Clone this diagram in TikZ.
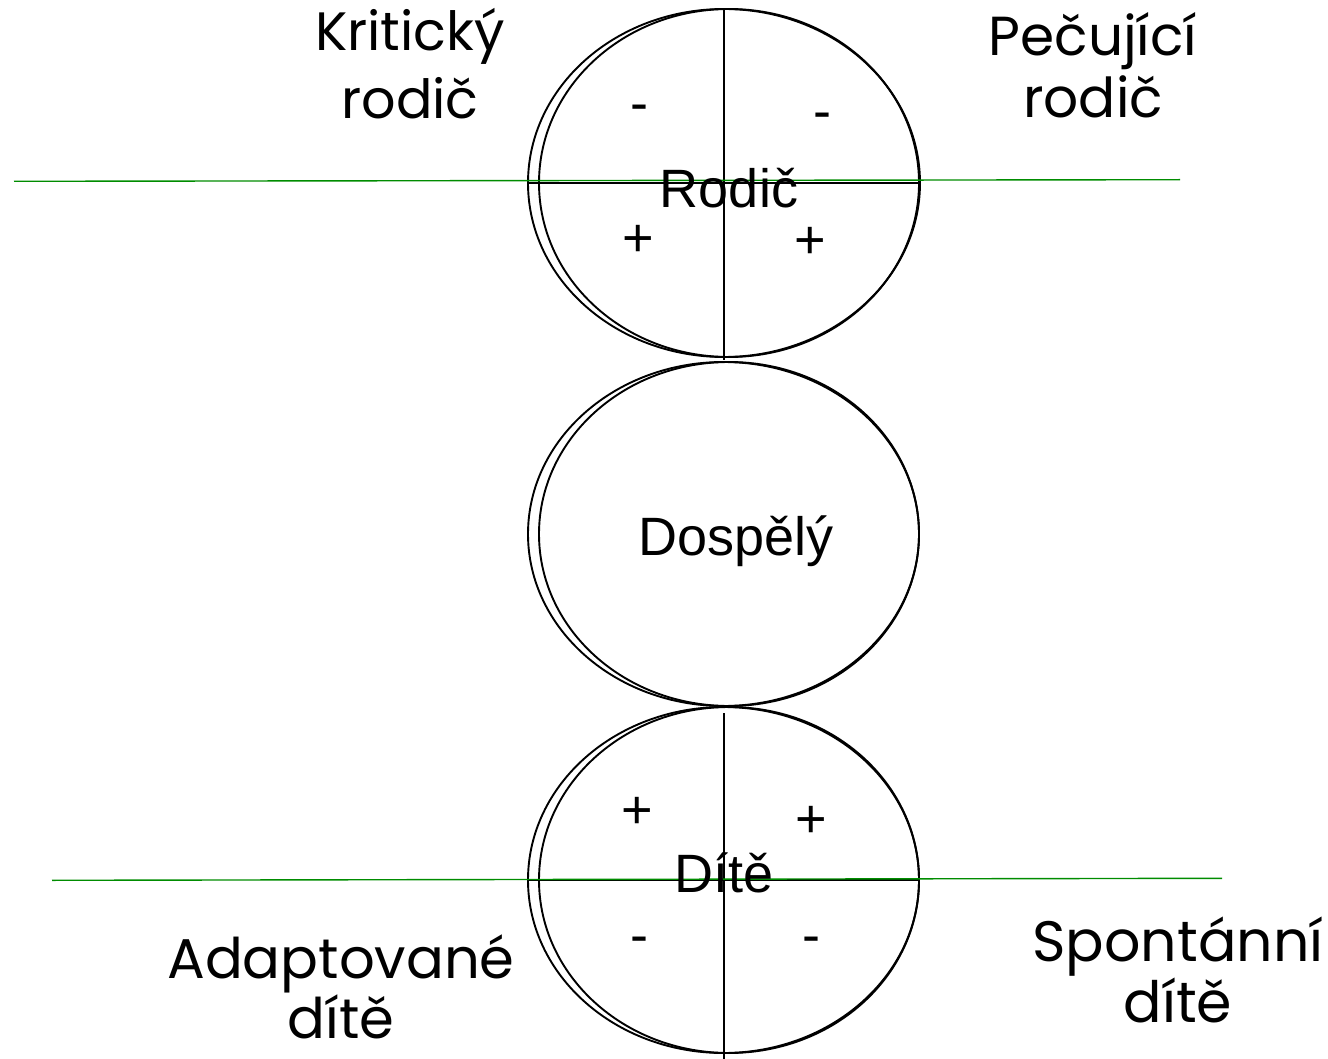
\documentclass[tikz,border=0pt]{standalone}
\usepackage{fontspec}
\setmainfont{Liberation Sans}
\newfontfamily\popfont{Poppins}
\usetikzlibrary{shapes.geometric}
\tikzset{
  ell/.style={draw=black, line width=1.9pt, ellipse, inner sep=0pt, outer sep=0pt},
  divline/.style={draw=black, line width=2.6pt},
  gline/.style={draw=green!55!black, line width=1.4pt},
  inner/.style={anchor=base, inner sep=0pt, font=\fontsize{54}{60}\selectfont},
  sign/.style={anchor=base, inner sep=0pt, font=\fontsize{54}{60}\selectfont},
  lbl/.style={align=center, inner sep=0pt, anchor=center}
}
\begin{document}
\begin{tikzpicture}[x=1pt,y=-1pt]
\useasboundingbox (0,0) rectangle (1328,1059);
% Rodic
\node[ell, minimum width=392pt, minimum height=348pt] (Ro) at (724,183) {};
\node[ell, minimum width=380pt, minimum height=348pt] (Ri) at (729,183) {};
% Dospely
\node[ell, minimum width=391pt, minimum height=344pt] (Do) at (723.5,534) {};
\node[ell, minimum width=380pt, minimum height=344pt] (Di) at (729,534) {};
% Dite
\node[ell, minimum width=391pt, minimum height=346pt] (Co) at (723.5,880) {};
\node[ell, minimum width=380pt, minimum height=346pt] (Ci) at (729,880) {};
% division lines
\coordinate (rtop) at (724,9);
\coordinate (rbot) at (724,360);
\draw[divline] (rtop) -- (rbot);
\draw[divline] (Ro.west) -- (Ro.east);
\coordinate (ctop) at (724,713);
\coordinate (cbot) at (724,1059);
\draw[divline] (ctop) -- (cbot);
\draw[divline] (Co.west) -- (Co.east);
% green lines
\coordinate (g1a) at (14,181.3);
\coordinate (g1b) at (1180,179.7);
\draw[gline] (g1a) -- (g1b);
\coordinate (g2a) at (52,880.3);
\coordinate (g2b) at (1222,878.3);
\draw[gline] (g2a) -- (g2b);
% inner texts
\node[inner] (tRodic) at (729,208) {Rodič};
\node[inner] (tDospely) at (736,555) {Dospělý};
\node[inner] (tDite) at (724,892) {Dítě};
% signs
\node[sign] (s1) at (639,122) {-};
\node[sign] (s2) at (822,130) {-};
\node[sign] (s3) at (638,257) {+};
\node[sign] (s4) at (810,259) {+};
\node[sign] (s5) at (637,828) {+};
\node[sign] (s6) at (811,837) {+};
\node[sign] (s7) at (639,953) {-};
\node[sign] (s8) at (811,953) {-};
% outer labels
\node[lbl, font=\popfont\fontsize{54}{68}\selectfont] (kr) at (410,64) {Kritický\\rodič};
\node[lbl, font=\popfont\fontsize{55}{62}\selectfont] (pr) at (1093,65) {Pečující\\rodič};
\node[lbl, font=\popfont\fontsize{56}{60}\selectfont] (ad) at (341,987) {Adaptované\\dítě};
\node[lbl, font=\popfont\fontsize{57}{57}\selectfont] (sd) at (1178,970) {Spontánní\\dítě};
\end{tikzpicture}
\end{document}
